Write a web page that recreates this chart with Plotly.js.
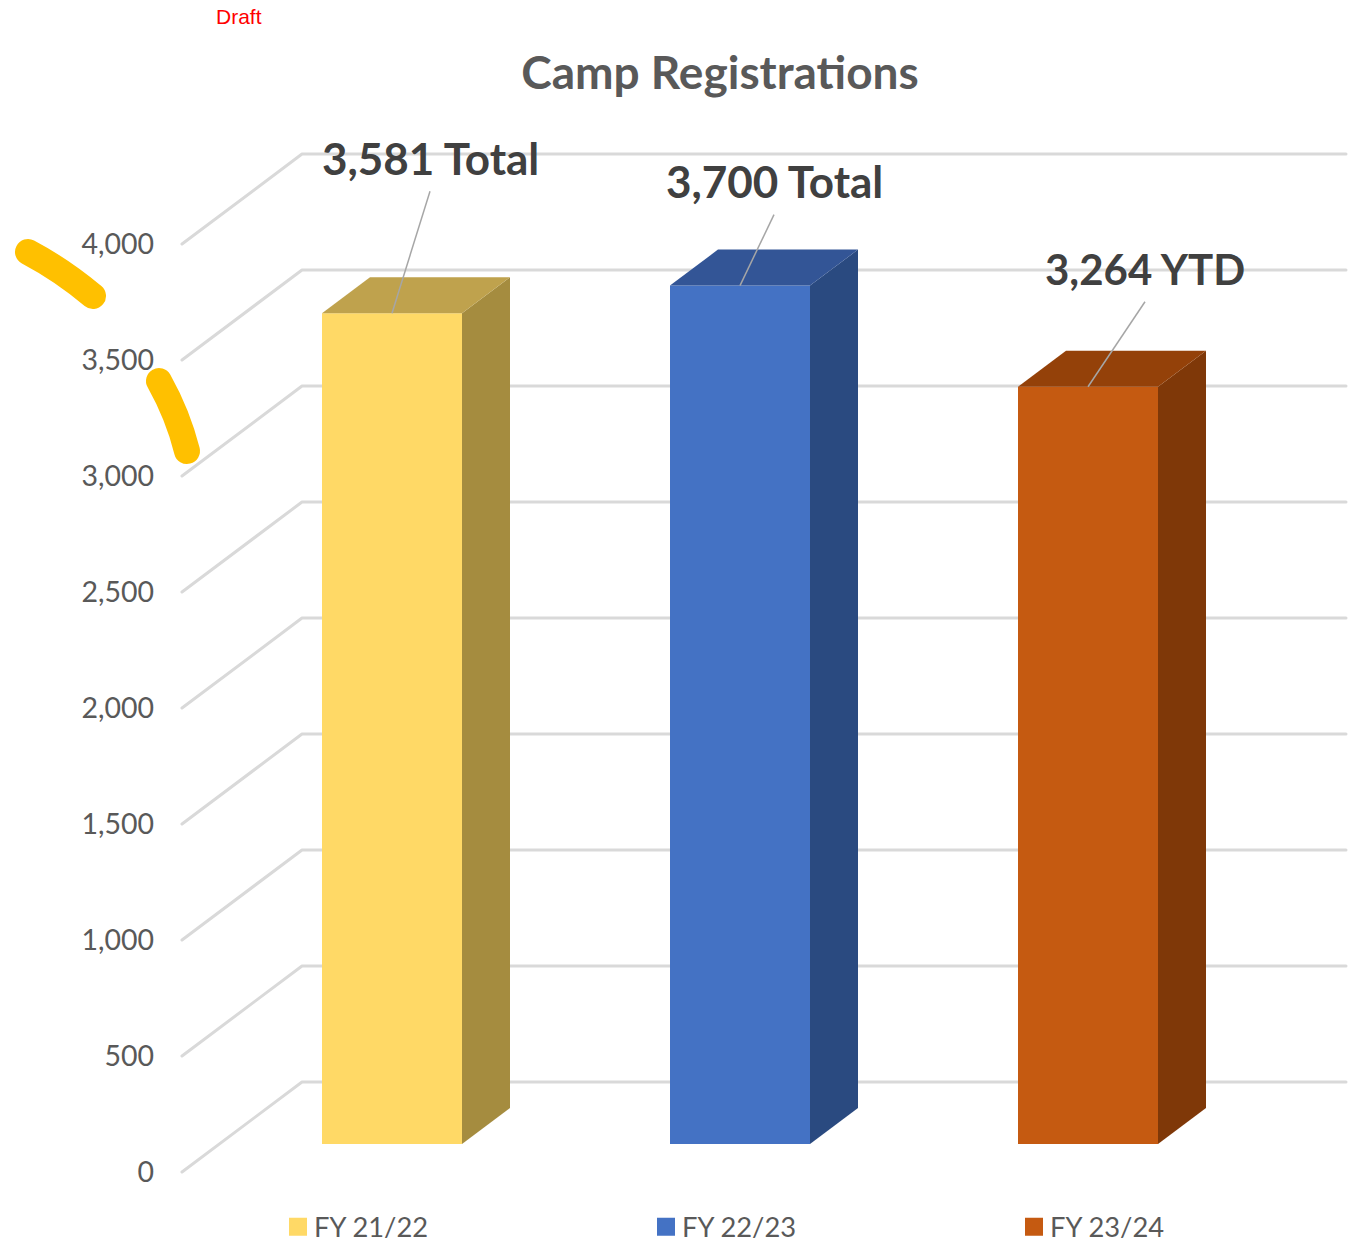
<!DOCTYPE html>
<html>
<head>
<meta charset="utf-8">
<script src="https://cdn.plot.ly/plotly-3.0.1.min.js"></script>
<style>
html,body{margin:0;padding:0;background:#fff;}
.shapelayer path{stroke-linecap:round;stroke-linejoin:round;}
.legend .legendpoints path{transform:translate(24px,0) scale(1.5) !important;}
.legend .scrollbox{transform:translate(24px,12.5px);}
.legend{overflow:visible;}
</style>
</head>
<body>
<div id="chart" style="width:1358px;height:1242px;"></div>
<script>
var categories = ['FY 21/22', 'FY 22/23', 'FY 23/24'];
var values = [3581, 3700, 3264];
var labels = ['3,581 Total', '3,700 Total', '3,264 YTD'];
var frontColors = ['#FFD966', '#4472C4', '#C55A11'];
var sideColors = ['#A58C3F', '#2A4A80', '#7F3808'];
var topColors = ['#BFA24D', '#335596', '#944109'];
var tickValues = [0, 500, 1000, 1500, 2000, 2500, 3000, 3500, 4000];
var tickLabels = ['0', '500', '1,000', '1,500', '2,000', '2,500', '3,000', '3,500', '4,000'];

// page geometry
var W = 1358, H = 1242, mL = 155, mR = 0, mT = 110, mB = 55;
var pxPerCat = 348, cat0Px = 392, pxPerUnit = 0.232, zeroPx = 1172;
var barWidthPx = 140, barDepthX = 48, barDepthY = 36, barBaseLift = 28;
var wallDepthX = 120, wallDepthY = 90, wallLeftPx = 182, wallRightPx = 1346;
var leaderEnd = [[38, 122], [34, 71], [57, 85]];   // px from bar-top centre
var labelOffset = [[38, 155], [34, 105], [57, 118]]; // px from bar-top centre
var labelSizes = [44, 44, 42];

function dx(px) { return px / pxPerCat; }
function dy(px) { return px / pxPerUnit; }
function xAt(px) { return (px - cat0Px) / pxPerCat; }
function paperX(px) { return (px - mL) / (W - mL - mR); }
function paperY(py) { return (H - mB - py) / (H - mT - mB); }

var base = dy(barBaseLift), hw = dx(barWidthPx / 2);
var traces = [];

categories.forEach(function (c, i) {
  traces.push({
    type: 'bar', name: c, x: [i], y: [values[i]], base: [base], width: [barWidthPx / pxPerCat],
    marker: { color: frontColors[i], line: { width: 0 } }, hoverinfo: 'name+y'
  });
});
categories.forEach(function (c, i) {
  var v = values[i] + base, l = i - hw, r = i + hw, ox = dx(barDepthX), oy = dy(barDepthY);
  traces.push({
    type: 'scatter', mode: 'lines', fill: 'toself', fillcolor: sideColors[i], showlegend: false, hoverinfo: 'skip',
    line: { width: 0, color: sideColors[i] },
    x: [r, r + ox, r + ox, r, r], y: [base, base + oy, v + oy, v, base]
  });
  traces.push({
    type: 'scatter', mode: 'lines', fill: 'toself', fillcolor: topColors[i], showlegend: false, hoverinfo: 'skip',
    line: { width: 0, color: topColors[i] },
    x: [l, l + ox, r + ox, r, l], y: [v, v + oy, v + oy, v, v]
  });
  traces.push({
    type: 'scatter', mode: 'lines', showlegend: false, hoverinfo: 'skip',
    line: { width: 1.5, color: '#A6A6A6' },
    x: [i, i + dx(leaderEnd[i][0])], y: [v, v + dy(leaderEnd[i][1])]
  });
});

var shapes = tickValues.map(function (t) {
  var x0 = xAt(wallLeftPx), x1 = xAt(wallLeftPx + wallDepthX), x2 = xAt(wallRightPx), yb = t + dy(wallDepthY);
  return {
    type: 'path', layer: 'below', xref: 'x', yref: 'y',
    path: 'M' + x0 + ',' + t + ' L' + x1 + ',' + yb + ' L' + x2 + ',' + yb,
    line: { color: '#D9D9D9', width: 3 }
  };
});

function strokePath(pts) {
  return 'M' + paperX(pts[0][0]) + ',' + paperY(pts[0][1]) +
    ' Q' + paperX(pts[1][0]) + ',' + paperY(pts[1][1]) + ' ' + paperX(pts[2][0]) + ',' + paperY(pts[2][1]);
}
[[[28, 252], [62, 270], [93, 296]], [[159, 381], [178, 415], [187, 451]]].forEach(function (pts) {
  shapes.push({ type: 'path', xref: 'paper', yref: 'paper', layer: 'above', path: strokePath(pts),
    line: { color: '#FFC000', width: 26 } });
});

var annotations = categories.map(function (c, i) {
  return {
    xref: 'x', yref: 'y', x: i, y: values[i] + base, xshift: labelOffset[i][0], yshift: labelOffset[i][1],
    text: '<b>' + labels[i] + '</b>', showarrow: false, xanchor: 'center', yanchor: 'middle',
    font: { family: 'Lato, sans-serif', size: labelSizes[i], color: '#404040' }
  };
});
annotations.push({
  xref: 'paper', yref: 'paper', x: paperX(239), y: paperY(16.5), text: 'Draft', showarrow: false,
  xanchor: 'center', yanchor: 'middle', font: { family: 'Liberation Sans, Arial, sans-serif', size: 21, color: '#FF0000' }
});

var layout = {
  width: W, height: H, autosize: false,
  margin: { l: mL, r: mR, t: mT, b: mB, pad: 0 },
  paper_bgcolor: '#fff', plot_bgcolor: '#fff',
  barmode: 'overlay',
  title: { text: '<b>Camp Registrations</b>', x: 720 / W, xanchor: 'center', y: 1 - 73 / H, yanchor: 'middle',
    font: { family: 'Lato, sans-serif', size: 46, color: '#595959' } },
  xaxis: { visible: false, range: [xAt(mL), xAt(W - mR)], fixedrange: true },
  yaxis: {
    range: [(zeroPx - (H - mB)) / pxPerUnit, (zeroPx - mT) / pxPerUnit], tickmode: 'array',
    tickvals: tickValues, ticktext: tickLabels, showgrid: false, zeroline: false, showline: false, ticks: '',
    tickfont: { family: 'Lato, sans-serif', size: 28.5, color: '#595959' }, fixedrange: true
  },
  legend: {
    orientation: 'h', x: paperX(250), xanchor: 'left', y: paperY(1190), yanchor: 'top',
    entrywidth: 323, entrywidthmode: 'pixels', traceorder: 'normal',
    font: { family: 'Lato, sans-serif', size: 27.3, color: '#595959' }, bgcolor: 'rgba(0,0,0,0)'
  },
  shapes: shapes,
  annotations: annotations
};

Plotly.newPlot('chart', traces, layout, { displayModeBar: false, staticPlot: true });
</script>
</body>
</html>
